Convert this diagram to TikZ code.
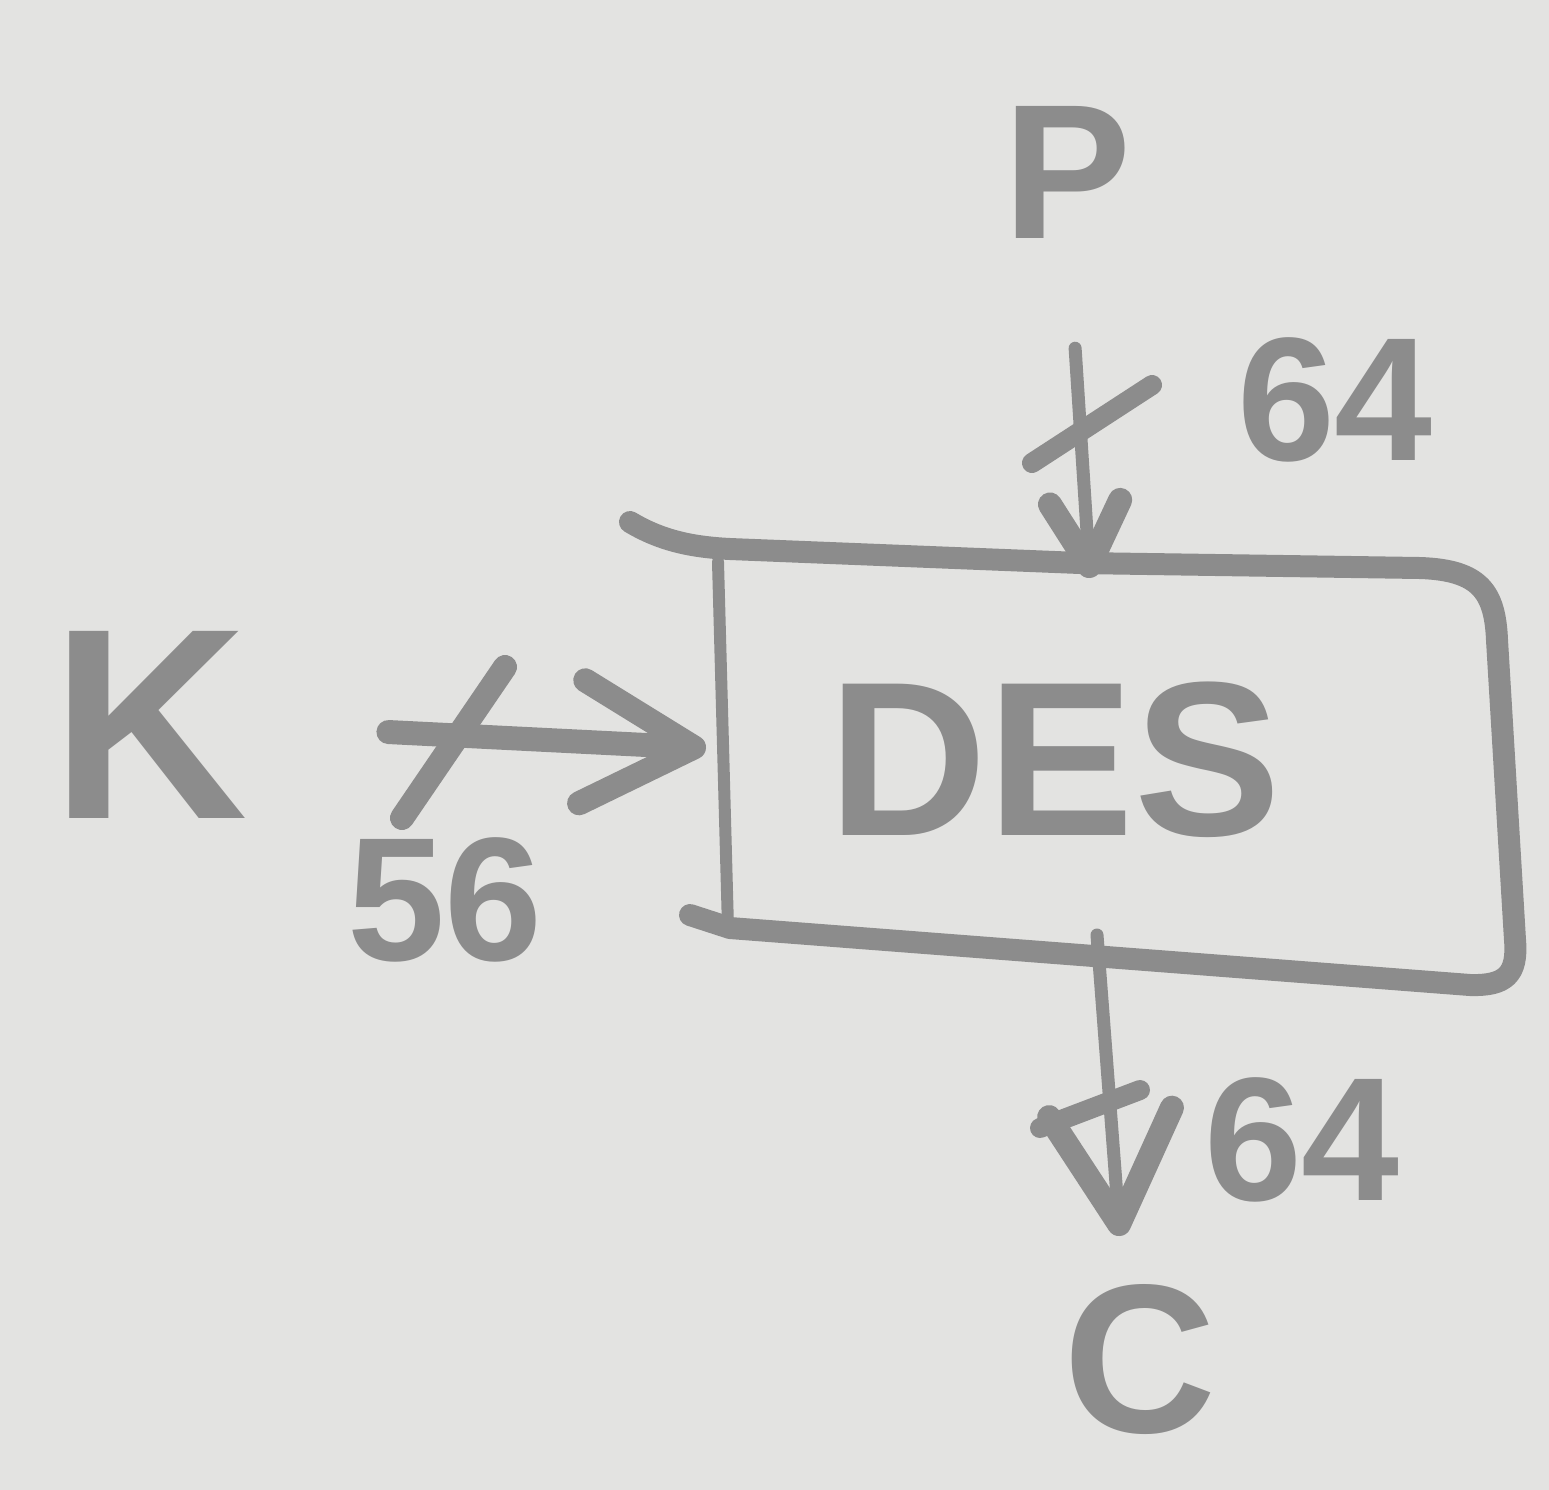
\documentclass[tikz,border=0pt]{standalone}
\usepackage{fontspec}
\setmainfont{Liberation Sans}
\usetikzlibrary{arrows.meta}
\definecolor{paper}{RGB}{227,227,225}
\definecolor{ink}{RGB}{140,140,140}
\begin{document}
\begin{tikzpicture}[x=0.5pt,y=-0.5pt,
  lbl/.style={text=ink, inner sep=0pt},
  big/.style={lbl, font=\bfseries\fontsize{110}{110}\selectfont},
  width/.style={lbl, font=\bfseries\fontsize{88}{88}\selectfont},
  wire/.style={draw=ink, line width=6.5pt, line cap=round},
  tick/.style={draw=ink, line width=10pt, line cap=round},
  outline/.style={draw=ink, line width=11pt, line cap=round, line join=round},
  side/.style={draw=ink, line width=6pt, line cap=round},
  head/.style={-{Straight Barb[length=#1, width=1.1*#1, line width=12pt, round]}},
]
% paper
\useasboundingbox (0,0) rectangle (1549,1490);
\fill[paper] (0,0) rectangle (1549,1490);

% block
\node[big] (des) at (1055,760) {DES};
\draw[outline] (630,522) .. controls (660,540) and (690,547) .. (730,549)
  -- (1080,563) -- (1420,568)
  .. controls (1480,570) and (1495,592) .. (1497,640)
  -- (1515,940) .. controls (1518,975) and (1505,986) .. (1470,985)
  -- (730,928) -- (690,915);
\draw[side] (718,562) -- (728,928);

% ports on the block
\coordinate (pin) at (1090,578);
\coordinate (kin) at (706,748);
\coordinate (cout) at (1097,935);
\coordinate (ctip) at (1120,1236);

% plaintext input
\node[lbl, font=\bfseries\fontsize{96}{96}\selectfont] (P) at (1068,172) {P};
\draw[wire, head=32pt, shorten <=55pt] (P.south) -- (pin);
\draw[tick] (1032,463) -- (1152,385);
\node[width] (wp) at (1335,400) {64};

% key input
\node[lbl, font=\bfseries\fontsize{136}{136}\selectfont] (K) at (150,725) {K};
\draw[wire, line width=12pt, head=56pt, shorten <=70pt] (K.east) -- (kin);
\draw[tick, line width=12pt] (402,818) -- (505,667);
\node[width] (wk) at (445,900) {56};

% ciphertext output
\node[lbl, font=\bfseries\fontsize{106}{106}\selectfont] (C) at (1140,1360) {C};
\draw[wire, head=56pt] (cout) -- (ctip);
\draw[tick] (1040,1128) -- (1140,1090);
\node[width] (wc) at (1302,1140) {64};
\end{tikzpicture}
\end{document}
